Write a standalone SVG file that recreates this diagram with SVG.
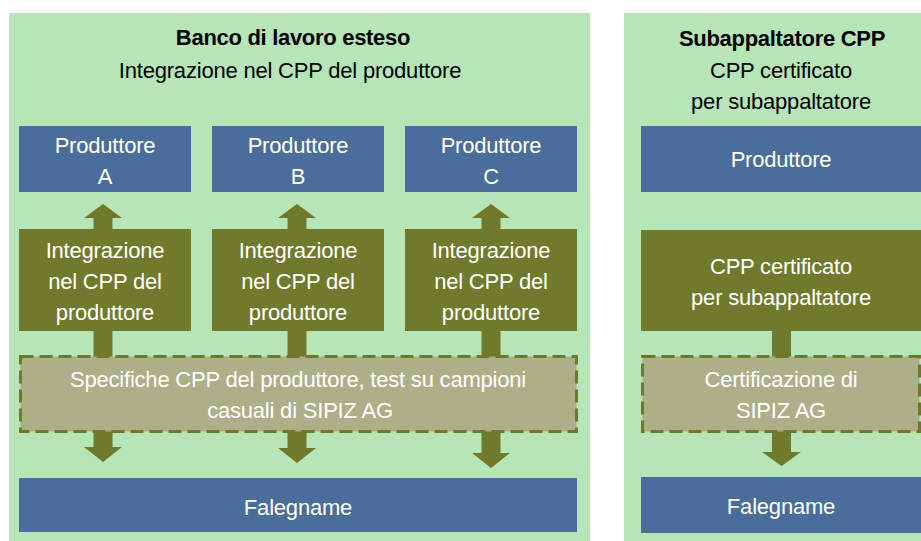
<svg xmlns="http://www.w3.org/2000/svg" width="921" height="541" viewBox="0 0 921 541">
<style>
text{font-family:"Liberation Sans",Arial,sans-serif;font-size:22px;letter-spacing:-0.2px;text-anchor:middle}
.bk{fill:#000}
.b{font-weight:bold;letter-spacing:-0.3px}
.w{fill:#fff}
.panel{fill:#B6E5B7}
.blue{fill:#4A6D9B}
.olive{fill:#707A2D}
.dash{fill:#ADAF89;stroke:#6E782B;stroke-width:3;stroke-dasharray:13 6}
.arr{fill:#707A2D}
</style>
<rect class="panel" x="9" y="13" width="581" height="528"/>
<rect class="panel" x="624" y="13" width="310" height="528"/>
<g id="title-left">
<text class="bk b" x="293" y="45">Banco di lavoro esteso</text>
<text class="bk" x="290" y="78">Integrazione nel CPP del produttore</text>
</g>
<g id="title-right">
<text class="bk b" x="782" y="46">Subappaltatore CPP</text>
<text class="bk" x="781" y="78">CPP certificato</text>
<text class="bk" x="781" y="109">per subappaltatore</text>
</g>
<g id="connectors">
<polygon class="arr" points="103,204 122,218 112.5,218 112.5,447 122,447 103,462 84,447 93.5,447 93.5,218 84,218"/>
<polygon class="arr" points="297,204 316,218 306.5,218 306.5,448 316,448 297,463 278,448 287.5,448 287.5,218 278,218"/>
<polygon class="arr" points="491,204 510,218 500.5,218 500.5,453 510,453 491,468 472,453 481.5,453 481.5,218 472,218"/>
<polygon class="arr" points="772,331 791,331 791,452 801,452 781.5,466 762,452 772,452"/>
</g>
<g id="prod-a">
<rect class="blue" x="19" y="126" width="172" height="66"/>
<text class="w" x="105" y="153">Produttore</text>
<text class="w" x="105" y="184">A</text>
</g>
<g id="prod-b">
<rect class="blue" x="212" y="126" width="172" height="66"/>
<text class="w" x="298" y="153">Produttore</text>
<text class="w" x="298" y="184">B</text>
</g>
<g id="prod-c">
<rect class="blue" x="405" y="126" width="172" height="66"/>
<text class="w" x="491" y="153">Produttore</text>
<text class="w" x="491" y="184">C</text>
</g>
<g id="int-a">
<rect class="olive" x="19" y="229" width="172" height="102"/>
<text class="w" x="105" y="258">Integrazione</text>
<text class="w" x="105" y="289">nel CPP del</text>
<text class="w" x="105" y="320">produttore</text>
</g>
<g id="int-b">
<rect class="olive" x="212" y="229" width="172" height="102"/>
<text class="w" x="298" y="258">Integrazione</text>
<text class="w" x="298" y="289">nel CPP del</text>
<text class="w" x="298" y="320">produttore</text>
</g>
<g id="int-c">
<rect class="olive" x="405" y="229" width="172" height="102"/>
<text class="w" x="491" y="258">Integrazione</text>
<text class="w" x="491" y="289">nel CPP del</text>
<text class="w" x="491" y="320">produttore</text>
</g>
<g id="specifiche">
<rect class="dash" x="20.5" y="356.5" width="556" height="75"/>
<text class="w" x="298" y="387">Specifiche CPP del produttore, test su campioni</text>
<text class="w" x="300" y="418">casuali di SIPIZ AG</text>
</g>
<g id="falegname-left">
<rect class="blue" x="19" y="478" width="558" height="54"/>
<text class="w" x="298" y="515">Falegname</text>
</g>
<g id="prod-right">
<rect class="blue" x="641" y="126" width="280" height="66"/>
<text class="w" x="781" y="167">Produttore</text>
</g>
<g id="cpp-cert">
<rect class="olive" x="641" y="230" width="280" height="101"/>
<text class="w" x="781" y="274">CPP certificato</text>
<text class="w" x="781" y="305">per subappaltatore</text>
</g>
<g id="certificazione">
<rect class="dash" x="642.5" y="356.5" width="277" height="75"/>
<text class="w" x="781" y="387">Certificazione di</text>
<text class="w" x="781" y="418">SIPIZ AG</text>
</g>
<g id="falegname-right">
<rect class="blue" x="641" y="477" width="280" height="56"/>
<text class="w" x="781" y="514">Falegname</text>
</g>
</svg>
